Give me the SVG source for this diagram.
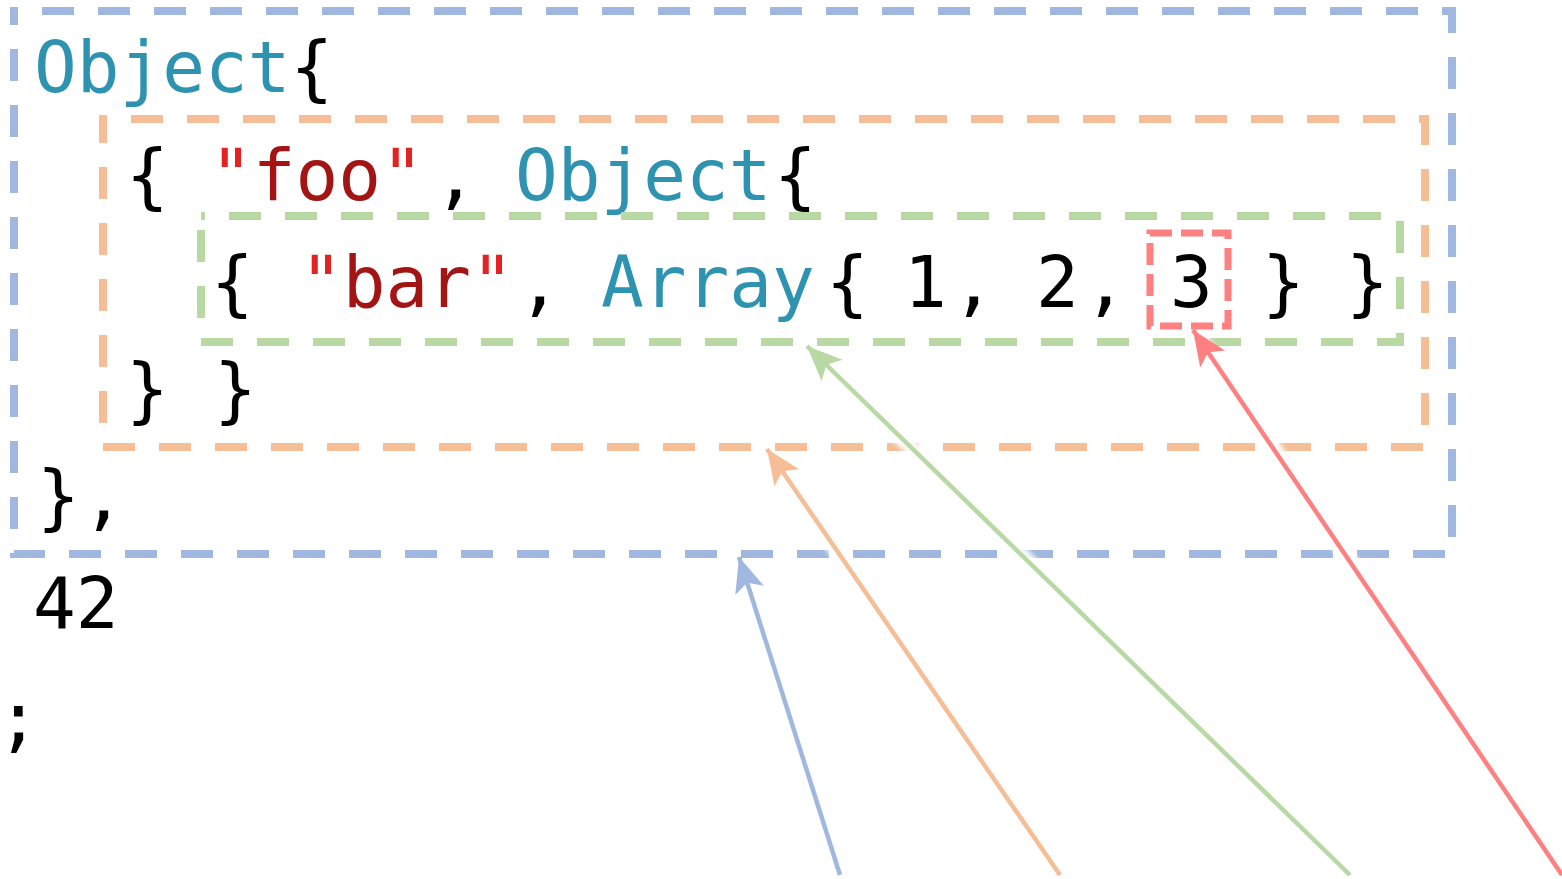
<svg xmlns="http://www.w3.org/2000/svg" width="1562" height="879" viewBox="0 0 1562 879">
<style>
  .code { font-family: "DejaVu Sans Mono", "Liberation Mono", monospace; font-size: 71px; fill: #000; }
  .kw { fill: #2E93B0; }
  .str { fill: #A31515; }
  .q { fill: #E32222; }
  .box { fill: none; stroke-width: 8; stroke-dasharray: 32 24; }
  .halo { fill: none; stroke: #fff; stroke-width: 16; opacity: 0.9; }
  .conn { fill: none; stroke-width: 4.5; }
</style>
<defs>
  <filter id="blur" x="-20%" y="-20%" width="140%" height="140%"><feGaussianBlur stdDeviation="2"/></filter>
  <marker id="mBlue" markerUnits="userSpaceOnUse" markerWidth="36" markerHeight="32" viewBox="0 0 36 32" refX="35" refY="16" orient="auto"><path d="M0,1 L35,16 L0,31 L8,16 Z" fill="#A0B8E0"/></marker>
  <marker id="mOrange" markerUnits="userSpaceOnUse" markerWidth="36" markerHeight="32" viewBox="0 0 36 32" refX="35" refY="16" orient="auto"><path d="M0,1 L35,16 L0,31 L8,16 Z" fill="#F5BE96"/></marker>
  <marker id="mGreen" markerUnits="userSpaceOnUse" markerWidth="36" markerHeight="32" viewBox="0 0 36 32" refX="35" refY="16" orient="auto"><path d="M0,1 L35,16 L0,31 L8,16 Z" fill="#B8D8A4"/></marker>
  <marker id="mRed" markerUnits="userSpaceOnUse" markerWidth="36" markerHeight="32" viewBox="0 0 36 32" refX="35" refY="16" orient="auto"><path d="M0,1 L35,16 L0,31 L8,16 Z" fill="#FF8080"/></marker>
</defs>
<rect width="1562" height="879" fill="#fff"/>

<g id="outer-object">
  <path class="box" stroke="#A0B8E0" d="M14,11 H1452 V554 H14 Z" stroke-dashoffset="-28"/>
  <text class="code" x="34" y="92"><tspan class="kw">Object</tspan>{</text>
  <text class="code" x="37" y="521">}<tspan x="82">,</tspan></text>
</g>

<g id="foo-pair">
  <path class="box" stroke="#F5BE96" d="M103,119 H1425 V447 H103 Z" stroke-dashoffset="-28"/>
  <text class="code" y="200"><tspan x="126">{</tspan><tspan x="210" class="q">"</tspan><tspan class="str">foo</tspan><tspan class="q">"</tspan><tspan x="434">,</tspan><tspan x="515" class="kw">Object</tspan><tspan x="774">{</tspan></text>
  <text class="code" y="414"><tspan x="126">}</tspan><tspan x="214">}</tspan></text>
</g>

<g id="bar-pair">
  <path class="box" stroke="#B8D8A4" d="M201,216 H1400 V342 H201 Z" stroke-dashoffset="-28"/>
  <text class="code" y="307"><tspan x="211">{</tspan><tspan x="300" class="q">"</tspan><tspan class="str">bar</tspan><tspan class="q">"</tspan><tspan x="518">,</tspan><tspan x="601" class="kw">Array</tspan><tspan x="826">{</tspan><tspan x="904">1</tspan><tspan x="952">,</tspan><tspan x="1036">2</tspan><tspan x="1084">,</tspan><tspan x="1262">}</tspan><tspan x="1346">}</tspan></text>
</g>

<g id="element-3">
  <path fill="none" stroke="#FF8080" stroke-width="7" stroke-dasharray="22 9" d="M1150,233 H1228 V326 H1150 Z"/>
  <text class="code" x="1170" y="307">3</text>
</g>

<g id="value-42">
  <text class="code" x="33" y="628">42</text>
</g>

<g id="semicolon">
  <text class="code" x="-3" y="743">;</text>
</g>

<g id="connectors">
  <g filter="url(#blur)">
    <path class="halo" d="M840,875 L742,566"/>
    <path class="halo" d="M1060,875 L773,458"/>
    <path class="halo" d="M1350,875 L814,353"/>
    <path class="halo" d="M1562,875 L1199,338"/>
  </g>
  <path class="conn" stroke="#A0B8E0" d="M840,875 L739,557" marker-end="url(#mBlue)"/>
  <path class="conn" stroke="#F5BE96" d="M1060,875 L767,449" marker-end="url(#mOrange)"/>
  <path class="conn" stroke="#B8D8A4" d="M1350,875 L807,346" marker-end="url(#mGreen)"/>
  <path class="conn" stroke="#FF8080" d="M1562,875 L1193,330" marker-end="url(#mRed)"/>
</g>
</svg>
